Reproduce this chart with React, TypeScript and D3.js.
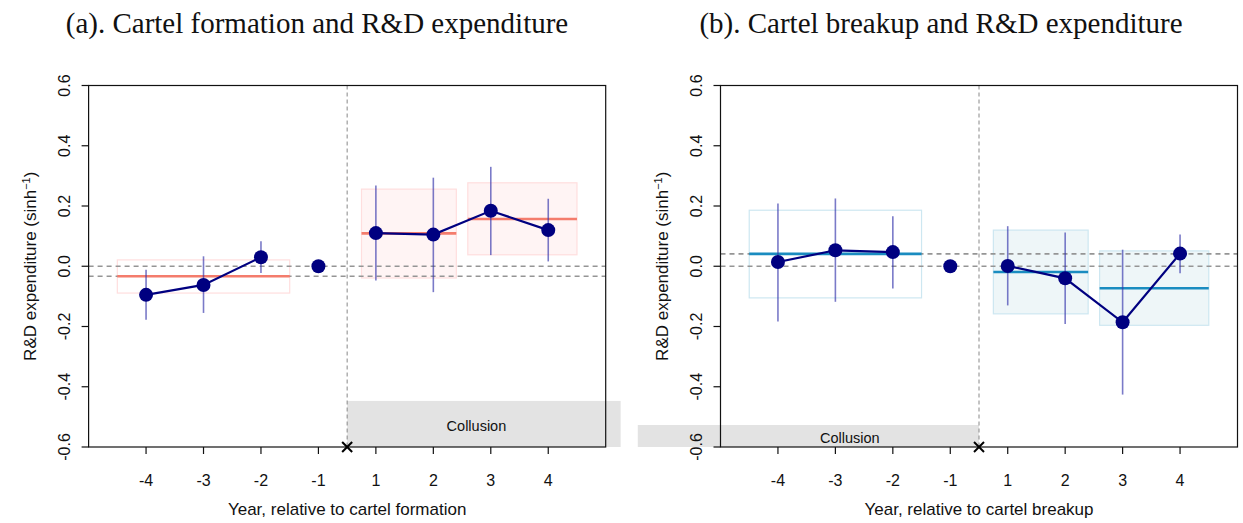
import React from "react";
import * as d3 from "d3";

// ---------- data ----------
const yearLabels = ["-4", "-3", "-2", "-1", "1", "2", "3", "4"];
const yTicks = [-0.6, -0.4, -0.2, 0.0, 0.2, 0.4, 0.6];

const formationEst = [-0.095, -0.062, 0.030, 0.0, 0.110, 0.105, 0.184, 0.120];
const formationLo = [-0.178, -0.155, -0.022, null, -0.047, -0.086, 0.037, 0.016];
const formationHi = [-0.012, 0.033, 0.083, null, 0.268, 0.294, 0.330, 0.224];

const breakupEst = [0.014, 0.053, 0.047, 0.0, 0.001, -0.040, -0.186, 0.042];
const breakupLo = [-0.183, -0.118, -0.074, null, -0.130, -0.192, -0.426, -0.023];
const breakupHi = [0.208, 0.225, 0.166, null, 0.133, 0.112, 0.055, 0.105];

// period averages: start/end (index units), mean, lower, upper
const formationPeriods = [
  { from: -0.5, to: 2.5, mean: -0.033, lo: -0.089, hi: 0.021, filled: false },
  { from: 3.75, to: 5.4, mean: 0.109, lo: -0.039, hi: 0.256, filled: true },
  { from: 5.6, to: 7.5, mean: 0.157, lo: 0.038, hi: 0.277, filled: true },
];
const breakupPeriods = [
  { from: -0.5, to: 2.5, mean: 0.041, lo: -0.105, hi: 0.186, filled: false },
  { from: 3.75, to: 5.4, mean: -0.019, lo: -0.158, hi: 0.12, filled: true },
  { from: 5.6, to: 7.5, mean: -0.073, lo: -0.196, hi: 0.051, filled: true },
];

// ---------- layout ----------
const W = 1243;
const H = 523;
const TOP = 85.5;
const BOTTOM = 447;
const SANS = "'Liberation Sans', Arial, sans-serif";

type PanelProps = {
  left: number;
  right: number;
  title: string;
  titleX: number;
  xTitle: string;
  est: number[];
  lo: (number | null)[];
  hi: (number | null)[];
  periods: { from: number; to: number; mean: number; lo: number; hi: number; filled: boolean }[];
  meanColor: string;
  boxFill: string;
  boxStroke: string;
  collusion: { from: number; to: number; top: number };
};

function Panel(p: PanelProps) {
  const x = d3.scaleLinear().domain([-1, 8]).range([p.left, p.right]);
  const y = d3.scaleLinear().domain([-0.6, 0.6]).range([BOTTOM, TOP]);
  const idx = d3.range(yearLabels.length);
  const pre = idx.filter((i) => i <= 2);
  const post = idx.filter((i) => i >= 4);
  const line = d3
    .line<number>()
    .x((i) => x(i))
    .y((i) => y(p.est[i]));
  const preMean = p.periods[0].mean;
  const vx = x(3.5);
  const leftSide = p.collusion.from < 3.5;
  const colMid = (x(leftSide ? -1 : 3.5) + x(leftSide ? 3.5 : 8)) / 2;
  const colY0 = y(p.collusion.top);
  const colY1 = y(-0.6);
  return (
    <g>
      <text
        x={p.titleX}
        y={33}
        textAnchor="middle"
        fontFamily="'Liberation Serif', 'DejaVu Serif', serif"
        fontSize={29}
        fill="#111"
      >
        {p.title}
      </text>
      {/* collusion box */}
      <rect
        x={x(p.collusion.from)}
        y={colY0}
        width={x(p.collusion.to) - x(p.collusion.from)}
        height={colY1 - colY0}
        fill="#e3e3e3"
      />
      <text
        x={colMid}
        y={(colY0 + colY1) / 2 + 2}
        textAnchor="middle"
        dominantBaseline="central"
        fontFamily={SANS}
        fontSize={14.5}
        fill="#111"
      >
        Collusion
      </text>
      {/* period boxes */}
      {p.periods.map((r, k) => (
        <rect
          key={"b" + k}
          x={x(r.from)}
          y={y(r.hi)}
          width={x(r.to) - x(r.from)}
          height={y(r.lo) - y(r.hi)}
          fill={r.filled ? p.boxFill : "none"}
          stroke={p.boxStroke}
          strokeWidth={1.2}
        />
      ))}
      {/* dashed reference lines */}
      {[0, preMean].map((v, k) => (
        <line
          key={"h" + k}
          x1={p.left}
          x2={p.right}
          y1={y(v)}
          y2={y(v)}
          stroke="#959595"
          strokeWidth={1.6}
          strokeDasharray="5,4"
        />
      ))}
      <line x1={vx} x2={vx} y1={TOP} y2={BOTTOM} stroke="#888" strokeWidth={1} strokeDasharray="4,3" />
      {/* period means */}
      {p.periods.map((r, k) => (
        <line
          key={"m" + k}
          x1={x(r.from)}
          x2={x(r.to)}
          y1={y(r.mean)}
          y2={y(r.mean)}
          stroke={p.meanColor}
          strokeWidth={2.6}
        />
      ))}
      {/* CIs */}
      {idx.map((i) =>
        p.lo[i] === null ? null : (
          <line
            key={"c" + i}
            x1={x(i)}
            x2={x(i)}
            y1={y(p.lo[i] as number)}
            y2={y(p.hi[i] as number)}
            stroke="rgba(50,50,170,0.65)"
            strokeWidth={1.6}
          />
        )
      )}
      <path d={line(pre) || ""} fill="none" stroke="#000080" strokeWidth={2.2} />
      <path d={line(post) || ""} fill="none" stroke="#000080" strokeWidth={2.2} />
      {idx.map((i) => (
        <circle key={"p" + i} cx={x(i)} cy={y(p.est[i])} r={7} fill="#000080" />
      ))}
      {/* frame */}
      <rect x={p.left} y={TOP} width={p.right - p.left} height={BOTTOM - TOP} fill="none" stroke="#111" strokeWidth={1.2} />
      {/* y axis */}
      {yTicks.map((t) => (
        <g key={"yt" + t}>
          <line x1={p.left - 7} x2={p.left} y1={y(t)} y2={y(t)} stroke="#111" strokeWidth={1.2} />
          <text
            transform={`translate(${p.left - 19},${y(t)}) rotate(-90)`}
            textAnchor="middle"
            fontFamily={SANS}
            fontSize={16}
            fill="#111"
          >
            {t.toFixed(1)}
          </text>
        </g>
      ))}
      <text
        transform={`translate(${p.left - 53},${(TOP + BOTTOM) / 2}) rotate(-90)`}
        textAnchor="middle"
        fontFamily={SANS}
        fontSize={17}
        fill="#111"
      >
        R&amp;D expenditure (sinh
        <tspan dy={-6} fontSize={11}>−1</tspan>
        <tspan dy={6}>)</tspan>
      </text>
      {/* x axis */}
      {idx.map((i) => (
        <g key={"xt" + i}>
          <line x1={x(i)} x2={x(i)} y1={BOTTOM} y2={BOTTOM + 7} stroke="#111" strokeWidth={1.2} />
          <text x={x(i)} y={486} textAnchor="middle" fontFamily={SANS} fontSize={16} fill="#111">
            {yearLabels[i]}
          </text>
        </g>
      ))}
      <text x={(p.left + p.right) / 2} y={515} textAnchor="middle" fontFamily={SANS} fontSize={17} fill="#111">
        {p.xTitle}
      </text>
      {/* x marker */}
      <g stroke="#000" strokeWidth={2}>
        <line x1={vx - 5} x2={vx + 5} y1={BOTTOM - 5} y2={BOTTOM + 5} />
        <line x1={vx - 5} x2={vx + 5} y1={BOTTOM + 5} y2={BOTTOM - 5} />
      </g>
    </g>
  );
}

export default function App() {
  return (
    <div style={{ position: "absolute", left: 0, top: 0, width: W, height: H, background: "#fff" }}>
      <svg width={W} height={H} style={{ display: "block" }}>
        <rect width={W} height={H} fill="#fff" />
        <Panel
          left={88.6}
          right={605.7}
          title="(a). Cartel formation and R&D expenditure"
          titleX={317}
          xTitle="Year, relative to cartel formation"
          est={formationEst}
          lo={formationLo}
          hi={formationHi}
          periods={formationPeriods}
          meanColor="#f47c6c"
          boxFill="#fff4f4"
          boxStroke="#ffdede"
          collusion={{ from: 3.5, to: 8.26, top: -0.447 }}
        />
        <Panel
          left={720.5}
          right={1237.5}
          title="(b). Cartel breakup and R&D expenditure"
          titleX={941}
          xTitle="Year, relative to cartel breakup"
          est={breakupEst}
          lo={breakupLo}
          hi={breakupHi}
          periods={breakupPeriods}
          meanColor="#1a8cc0"
          boxFill="#eef6f8"
          boxStroke="#cde7f1"
          collusion={{ from: -2.44, to: 3.5, top: -0.527 }}
        />
      </svg>
    </div>
  );
}
